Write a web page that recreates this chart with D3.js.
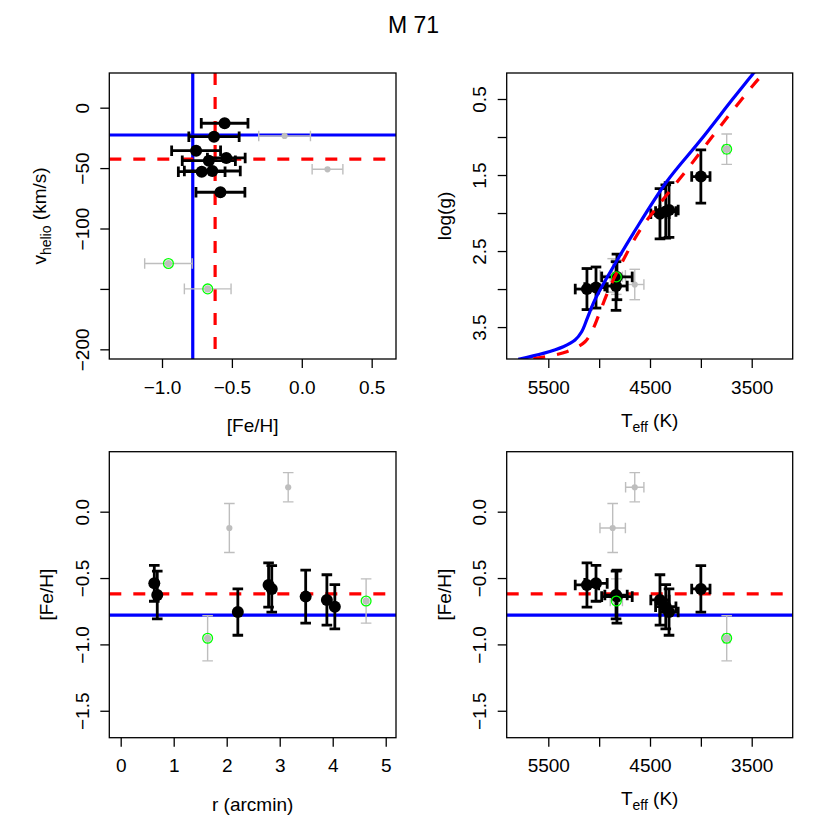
<!DOCTYPE html>
<html>
<head>
<meta charset="utf-8">
<script src="https://cdn.jsdelivr.net/npm/d3@7"></script>
<style>
  body { margin: 0; background: #fff; }
  svg text { font-family: "Liberation Sans", Arial, Helvetica, sans-serif; fill: #000; }
</style>
</head>
<body>
<script>
// member stars (black)
let rArc    = [0.634, 2.79, 2.85, 0.69, 3.49, 3.89, 4.04, 2.21];
let feh     = [-0.540, -0.552, -0.582, -0.628, -0.640, -0.665, -0.716, -0.756];
let fehErr  = [0.135, 0.167, 0.175, 0.180, 0.200, 0.190, 0.167, 0.175];
let vHelio  = [-41.6, -12.9, -70.0, -24.0, -52.4, -43.9, -53.0, -35.6];
let teff    = [5031, 5120, 4000, 4834, 4825, 4402, 4345, 4313];
let teffErr = [110, 115, 90, 110, 150, 90, 100, 90];
let logg    = [2.98, 3.00, 1.52, 2.96, 2.84, 2.01, 1.98, 1.96];
let loggErr = [0.27, 0.27, 0.35, 0.32, 0.30, 0.33, 0.35, 0.36];

// non members (gray), ring = circled in green
let gRArc    = [2.05, 3.16, 1.64, 4.63];
let gFeh     = [-0.123, 0.184, -0.954, -0.673];
let gFehErr  = [0.185, 0.110, 0.170, 0.167];
let gVHelio  = [-23.4, -51.0, -129.0, -150.0];
let gTeff    = [4867, 4650, 3746, 4831];
let gTeffErr = [125, 90, 30, 60];
let gLogg    = [2.82, 2.94, 1.16, 2.84];
let gLoggErr = [0.22, 0.20, 0.20, 0.23];
let gRing    = [false, false, true, true];

// cluster values
let fehBlue = -0.78, fehRed = -0.62;
let vBlue = -22.6, vRed = -42.5;

// isochrones
let isoBlueT = [5795, 5549, 5353, 5237, 5172, 5117, 5058, 4992, 4861, 4664, 4336, 4008, 3681, 3484, 3420];
let isoBlueG = [3.925, 3.846, 3.759, 3.671, 3.562, 3.386, 3.188, 3.013, 2.707, 2.267, 1.588, 1.05, 0.491, 0.162, 0.05];
let isoRedT  = [5647, 5319, 5139, 5058, 4992, 4893, 4763, 4598, 4402, 4139, 3812, 3484, 3386, 3340];
let isoRedG  = [3.917, 3.825, 3.693, 3.518, 3.298, 2.970, 2.618, 2.224, 1.873, 1.434, 0.864, 0.316, 0.162, 0.08];

let stars = feh.map((d, i) => ({ r: rArc[i], feh: d, efeh: fehErr[i], v: vHelio[i], t: teff[i], et: teffErr[i], g: logg[i], eg: loggErr[i] }));
let grays = gFeh.map((d, i) => ({ r: gRArc[i], feh: d, efeh: gFehErr[i], v: gVHelio[i], t: gTeff[i], et: gTeffErr[i], g: gLogg[i], eg: gLoggErr[i], ring: gRing[i] }));

let W = 830, H = 830;
let font = '"Liberation Sans", Arial, Helvetica, sans-serif';
let svg = d3.select('body').append('svg').attr('width', W).attr('height', H);

let colX = [[109.3, 396], [506.7, 792.7]];
let rowY = [[73, 359], [451.7, 737.7]];

//title
svg.append('text')
    .attr('x', 413.5).attr('y', 33.3)
    .attr('text-anchor', 'middle')
    .style('font-size', '23px')
    .text('M 71');

let cap = 5.3;

function errBar(g, x1, y1, x2, y2, col, w, vertical) {
    g.append('line').attr('x1', x1).attr('y1', y1).attr('x2', x2).attr('y2', y2)
        .attr('stroke', col).attr('stroke-width', w);
    [[x1, y1], [x2, y2]].forEach(p => {
        if (vertical) {
            g.append('line').attr('x1', p[0] - cap).attr('x2', p[0] + cap).attr('y1', p[1]).attr('y2', p[1])
                .attr('stroke', col).attr('stroke-width', w);
        } else {
            g.append('line').attr('x1', p[0]).attr('x2', p[0]).attr('y1', p[1] - cap).attr('y2', p[1] + cap)
                .attr('stroke', col).attr('stroke-width', w);
        }
    });
}

function panel(o) {
    let [x0, x1] = colX[o.col], [y0, y1] = rowY[o.row];
    let x = d3.scaleLinear().domain(o.xd).range([x0, x1]);
    let y = d3.scaleLinear().domain(o.yd).range(o.yInv ? [y0, y1] : [y1, y0]);
    let g = svg.append('g');
    let id = 'clip' + o.row + o.col;
    svg.append('clipPath').attr('id', id).append('rect')
        .attr('x', x0).attr('y', y0).attr('width', x1 - x0).attr('height', y1 - y0);
    let plot = g.append('g').attr('clip-path', 'url(#' + id + ')');

    //axes
    g.append('g').attr('transform', 'translate(0,' + y1 + ')')
        .call(d3.axisBottom(x).tickValues(o.xt).tickFormat((d, i) => o.xl[i]).tickSize(9).tickSizeOuter(0))
        .call(a => a.select('.domain').remove())
        .attr('font-family', font).attr('font-size', 19)
        .call(a => a.selectAll('line').attr('stroke-width', 1.3))
        .call(a => a.selectAll('text').attr('y', 34.6).attr('dy', null));
    g.append('g').attr('transform', 'translate(' + x0 + ',0)')
        .call(d3.axisLeft(y).tickValues(o.yt).tickFormat((d, i) => o.yl[i]).tickSize(9).tickSizeOuter(0))
        .call(a => a.select('.domain').remove())
        .attr('font-family', font).attr('font-size', 19)
        .call(a => a.selectAll('line').attr('stroke-width', 1.3))
        .call(a => a.selectAll('text').attr('x', null).attr('dy', null)
            .attr('text-anchor', 'middle').attr('transform', 'translate(-20.5,0) rotate(-90)'));

    g.append('rect').attr('x', x0).attr('y', y0).attr('width', x1 - x0).attr('height', y1 - y0)
        .attr('fill', 'none').attr('stroke', '#000').attr('stroke-width', 1.3);

    //axis titles
    let xt = g.append('text').attr('x', (x0 + x1) / 2).attr('y', y1 + o.xtOff)
        .attr('text-anchor', 'middle').style('font-size', '19px');
    o.xTitle(xt);
    let yt = g.append('text').attr('transform', 'translate(' + (x0 + o.ytOff) + ',' + (y0 + y1) / 2 + ') rotate(-90)')
        .attr('text-anchor', 'middle').style('font-size', '19px');
    o.yTitle(yt);

    return { x, y, plot };
}

function sub(t, main, s, rest) {
    t.append('tspan').text(main);
    t.append('tspan').attr('dy', 5).style('font-size', '14px').text(s);
    t.append('tspan').attr('dy', -5).text(rest);
}

function hline(p, val, col, dash) {
    let [a, b] = p.x.range();
    p.plot.append('line').attr('x1', a).attr('x2', b).attr('y1', p.y(val)).attr('y2', p.y(val))
        .attr('stroke', col).attr('stroke-width', 3.2).attr('stroke-dasharray', dash ? '12,12' : null);
}
function vline(p, val, col, dash) {
    let [a, b] = p.y.range();
    p.plot.append('line').attr('x1', p.x(val)).attr('x2', p.x(val)).attr('y1', Math.min(a, b)).attr('y2', Math.max(a, b))
        .attr('stroke', col).attr('stroke-width', 3.2).attr('stroke-dasharray', dash ? '12,12' : null);
}

// draw points with error bars; fx/fy accessors, ex/ey errors
function drawPoints(p, fx, fy, ex, ey) {
    let gl = p.plot.append('g');
    grays.forEach(d => {
        let cx = p.x(fx(d)), cy = p.y(fy(d));
        if (ex) errBar(gl, p.x(fx(d) - ex(d)), cy, p.x(fx(d) + ex(d)), cy, '#bebebe', 1.4, false);
        if (ey) errBar(gl, cx, p.y(fy(d) - ey(d)), cx, p.y(fy(d) + ey(d)), '#bebebe', 1.4, true);
        gl.append('circle').attr('cx', cx).attr('cy', cy).attr('r', d.ring ? 3.6 : 3.1).attr('fill', '#bebebe');
    });
    stars.forEach(d => {
        let cx = p.x(fx(d)), cy = p.y(fy(d));
        if (ex) errBar(gl, p.x(fx(d) - ex(d)), cy, p.x(fx(d) + ex(d)), cy, '#000', 2.8, false);
        if (ey) errBar(gl, cx, p.y(fy(d) - ey(d)), cx, p.y(fy(d) + ey(d)), '#000', 2.8, true);
        gl.append('circle').attr('cx', cx).attr('cy', cy).attr('r', 6).attr('fill', '#000');
    });
    grays.filter(d => d.ring).forEach(d => {
        gl.append('circle').attr('cx', p.x(fx(d))).attr('cy', p.y(fy(d))).attr('r', 4.9)
            .attr('fill', 'none').attr('stroke', '#00ff00').attr('stroke-width', 1.3);
    });
}

let fehT = ['0.0', '\u22120.5', '\u22121.0', '\u22121.5'];
let teffTicks = [5500, 5000, 4500, 4000, 3500];
let teffLab = ['5500', '', '4500', '', '3500'];

// top left: [Fe/H] vs v_helio
let p1 = panel({
    col: 0, row: 0, xd: [-1.377, 0.674], yd: [-208, 28.7],
    xt: [-1, -0.5, 0, 0.5], xl: ['\u22121.0', '\u22120.5', '0.0', '0.5'],
    yt: [0, -50, -100, -150, -200], yl: ['0', '\u221250', '\u2212100', '', '\u2212200'],
    xtOff: 73, ytOff: -63,
    xTitle: t => t.text('[Fe/H]'),
    yTitle: t => sub(t, 'v', 'helio', ' (km/s)')
});
vline(p1, fehBlue, '#0000ff', false);
hline(p1, vBlue, '#0000ff', false);
vline(p1, fehRed, '#ff0000', true);
hline(p1, vRed, '#ff0000', true);
drawPoints(p1, d => d.feh, d => d.v, d => d.efeh, null);

// top right: Teff vs log g
let p2 = panel({
    col: 1, row: 0, xd: [5909, 3097], yd: [0.158, 3.92], yInv: true,
    xt: teffTicks, xl: teffLab,
    yt: [0.5, 1, 1.5, 2, 2.5, 3, 3.5], yl: ['0.5', '', '1.5', '', '2.5', '', '3.5'],
    xtOff: 67.7, ytOff: -56,
    xTitle: t => sub(t, 'T', 'eff', ' (K)'),
    yTitle: t => t.text('log(g)')
});
drawPoints(p2, d => d.t, d => d.g, d => d.et, d => d.eg);
let iso = d3.line().x(d => p2.x(d[0])).y(d => p2.y(d[1])).curve(d3.curveCatmullRom);
p2.plot.append('path').datum(isoBlueT.map((t, i) => [t, isoBlueG[i]])).attr('d', iso)
    .attr('fill', 'none').attr('stroke', '#0000ff').attr('stroke-width', 3.2);
p2.plot.append('path').datum(isoRedT.map((t, i) => [t, isoRedG[i]])).attr('d', iso)
    .attr('fill', 'none').attr('stroke', '#ff0000').attr('stroke-width', 3.2).attr('stroke-dasharray', '12,12');

// bottom left: r vs [Fe/H]
let p3 = panel({
    col: 0, row: 1, xd: [-0.215, 5.194], yd: [-1.703, 0.452],
    xt: [0, 1, 2, 3, 4, 5], xl: ['0', '1', '2', '3', '4', '5'],
    yt: [0, -0.5, -1, -1.5], yl: fehT,
    xtOff: 73, ytOff: -56,
    xTitle: t => t.text('r (arcmin)'),
    yTitle: t => t.text('[Fe/H]')
});
hline(p3, fehBlue, '#0000ff', false);
hline(p3, fehRed, '#ff0000', true);
drawPoints(p3, d => d.r, d => d.feh, null, d => d.efeh);

// bottom right: Teff vs [Fe/H]
let p4 = panel({
    col: 1, row: 1, xd: [5909, 3097], yd: [-1.703, 0.452],
    xt: teffTicks, xl: teffLab,
    yt: [0, -0.5, -1, -1.5], yl: fehT,
    xtOff: 67.7, ytOff: -56,
    xTitle: t => sub(t, 'T', 'eff', ' (K)'),
    yTitle: t => t.text('[Fe/H]')
});
hline(p4, fehBlue, '#0000ff', false);
hline(p4, fehRed, '#ff0000', true);
drawPoints(p4, d => d.t, d => d.feh, d => d.et, d => d.efeh);
</script>
</body>
</html>
